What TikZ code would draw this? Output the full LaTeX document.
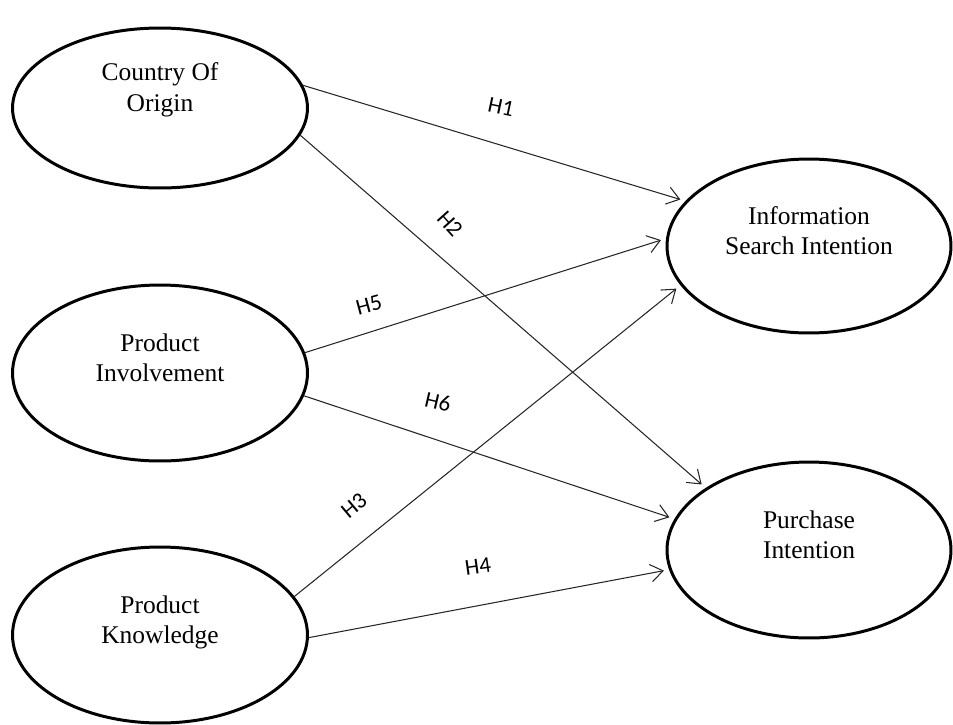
\documentclass[tikz,border=0pt]{standalone}
\usepackage{fontspec}
\setmainfont{Liberation Serif}
\newfontfamily\hypfont{Carlito}
\usepackage{tikz}
\usetikzlibrary{shapes.geometric,arrows.meta}

\begin{document}
\begin{tikzpicture}[x=0.02cm,y=-0.02cm,
	construct/.style={ellipse,draw,line width=1.7pt,inner sep=0pt,align=center,
		minimum width=5.9cm,minimum height=3.52cm,font=\fontsize{14.5}{17.5}\selectfont},
	path/.style={draw=black!85,line width=0.6pt,-{Straight Barb[length=7pt,width=10pt]},shorten >=3pt},
	hyp/.style={font=\hypfont\fontsize{13}{15}\selectfont}]
			\useasboundingbox (0,0) rectangle (953,724);
			\node[construct,minimum height=3.2cm] (coo) at (160,108) {Country Of\\Origin\\[6pt]\mbox{}};
			\node[construct] (inv) at (160,373) {Product\\Involvement\\\mbox{}};
			\node[construct] (kno) at (160,635) {Product\\Knowledge\\\mbox{}};
			\node[construct,minimum width=5.68cm,minimum height=3.48cm] (isi) at (809,246) {Information\\Search Intention\\\mbox{}};
			\node[construct,minimum width=5.68cm] (pur) at (809,550) {Purchase\\Intention\\\mbox{}};
			% hypotheses
			\draw[path] (coo.9) -- (isi.160);
			\draw[path] (coo.349) -- (pur.149);
			\draw[path] (kno.16) -- (isi.197);
			\draw[path] (kno.359) -- (pur.188);
			\draw[path] (inv.8) -- (isi.177);
			\draw[path] (inv.351) -- (pur.167);
			\node[hyp,rotate=-12] (h1) at (501,107) {H1};
			\node[hyp,rotate=-48] (h2) at (450,224) {H2};
			\node[hyp,rotate=40] (h3) at (354,506) {H3};
			\node[hyp,rotate=8] (h4) at (478,566) {H4};
			\node[hyp,rotate=15] (h5) at (369,305) {H5};
			\node[hyp,rotate=-13] (h6) at (438,402) {H6};
		\end{tikzpicture}
\end{document}
